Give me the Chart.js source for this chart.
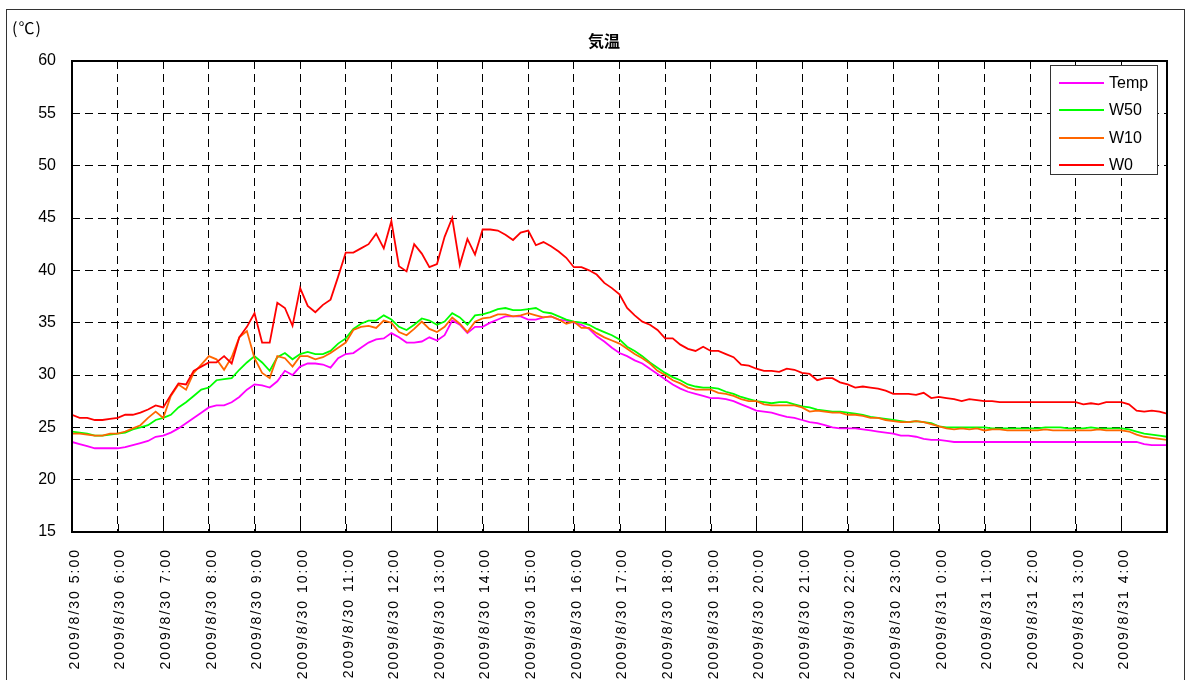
<!DOCTYPE html>
<html>
<head>
<meta charset="utf-8">
<script src="https://cdn.jsdelivr.net/npm/chart.js@4.4.0/dist/chart.umd.min.js"></script>
<style>
  html, body { margin: 0; padding: 0; background: #fff; overflow: hidden; }
  #wrap { position: relative; width: 1190px; height: 680px; }
  #myChart { position: absolute; left: 0; top: 0; }
  #frame { position: absolute; left: 6px; top: 9px; width: 1177px; height: 720px; border: 1px solid #333; pointer-events: none; }
  #unit { position: absolute; left: 12px; top: 16px; font: 16px "Noto Sans CJK JP", sans-serif; letter-spacing: 1px; line-height: 22px; color: #000; }
  #title { position: absolute; left: 554px; top: 29px; width: 100px; text-align: center; font: bold 16px "Noto Sans CJK JP", sans-serif; line-height: 22px; color: #000; }
  #legend { position: absolute; left: 1050px; top: 65px; width: 106px; height: 108px; border: 1px solid #333; background: #fff; }
  .legend-item { position: absolute; left: 0; height: 20px; width: 106px; }
  .legend-line { position: absolute; left: 8px; top: 9px; width: 45px; height: 2px; }
  .legend-text { position: absolute; left: 58px; top: 0; font: 16px "Liberation Sans", Arial, sans-serif; line-height: 20px; color: #000; }
</style>
</head>
<body>
<div id="wrap">
  <canvas id="myChart" width="1190" height="680"></canvas>
  <div id="frame"></div>
  <div id="unit">(℃)</div>
  <div id="title">気温</div>
  <div id="legend"></div>
</div>
<script>
// x axis tick labels, one per hour from 5:00
var hourLabels = [
    '2009/8/30 5:00', '2009/8/30 6:00', '2009/8/30 7:00', '2009/8/30 8:00',
    '2009/8/30 9:00', '2009/8/30 10:00', '2009/8/30 11:00', '2009/8/30 12:00',
    '2009/8/30 13:00', '2009/8/30 14:00', '2009/8/30 15:00', '2009/8/30 16:00',
    '2009/8/30 17:00', '2009/8/30 18:00', '2009/8/30 19:00', '2009/8/30 20:00',
    '2009/8/30 21:00', '2009/8/30 22:00', '2009/8/30 23:00', '2009/8/31 0:00',
    '2009/8/31 1:00', '2009/8/31 2:00', '2009/8/31 3:00', '2009/8/31 4:00'
];

// readings every 10 minutes, 2009/8/30 5:00 .. 2009/8/31 5:00
var stepMinutes = 10;

var seriesNames = ['Temp', 'W50', 'W10', 'W0'];
var seriesColors = ['#ff00ff', '#00ff00', '#ff6600', '#ff0000'];

var tempValues = [
    23.6, 23.4, 23.2, 23.0, 23.0, 23.0,
    23.0, 23.1, 23.3, 23.5, 23.7, 24.1,
    24.2, 24.5, 24.9, 25.4, 25.9, 26.4,
    26.9, 27.1, 27.1, 27.4, 27.9, 28.6,
    29.1, 29.0, 28.8, 29.4, 30.4, 30.0,
    30.8, 31.1, 31.1, 31.0, 30.7, 31.6,
    32.0, 32.1, 32.6, 33.1, 33.4, 33.5,
    34.0, 33.6, 33.1, 33.1, 33.2, 33.6,
    33.3, 33.8, 35.2, 34.8, 34.0, 34.6,
    34.6, 35.0, 35.3, 35.6, 35.6, 35.6,
    35.3, 35.3, 35.5, 35.6, 35.3, 35.2,
    35.0, 34.8, 34.4, 33.7, 33.2, 32.6,
    32.1, 31.8, 31.4, 31.1, 30.6, 30.1,
    29.6, 29.1, 28.7, 28.4, 28.2, 28.0,
    27.8, 27.8, 27.7, 27.5, 27.2, 26.9,
    26.6, 26.5, 26.4, 26.2, 26.0, 25.9,
    25.7, 25.5, 25.4, 25.2, 25.0, 24.9,
    24.9, 24.9, 24.8, 24.7, 24.6, 24.5,
    24.4, 24.2, 24.2, 24.1, 23.9, 23.8,
    23.8, 23.7, 23.6, 23.6, 23.6, 23.6,
    23.6, 23.6, 23.6, 23.6, 23.6, 23.6,
    23.6, 23.6, 23.6, 23.6, 23.6, 23.6,
    23.6, 23.6, 23.6, 23.6, 23.6, 23.6,
    23.6, 23.6, 23.6, 23.4, 23.3, 23.3,
    23.3
];

var w50Values = [
    24.6, 24.5, 24.4, 24.2, 24.2, 24.3,
    24.4, 24.5, 24.8, 25.0, 25.2, 25.7,
    25.9, 26.2, 26.9, 27.4, 28.0, 28.6,
    28.8, 29.5, 29.6, 29.7, 30.5, 31.2,
    31.8, 31.2, 30.4, 31.7, 32.1, 31.5,
    32.0, 32.2, 32.0, 32.0, 32.3, 33.0,
    33.5, 34.4, 34.9, 35.2, 35.2, 35.7,
    35.3, 34.6, 34.3, 34.8, 35.4, 35.2,
    34.8, 35.1, 35.9, 35.5, 34.8, 35.7,
    35.8, 36.0, 36.3, 36.4, 36.2, 36.2,
    36.3, 36.4, 36.0, 35.9, 35.6, 35.3,
    35.1, 35.0, 34.8, 34.4, 34.1, 33.8,
    33.4, 32.7, 32.3, 31.8, 31.2, 30.7,
    30.2, 29.8, 29.5, 29.1, 28.9, 28.8,
    28.8, 28.7, 28.4, 28.2, 27.9, 27.7,
    27.5, 27.4, 27.3, 27.4, 27.4, 27.2,
    27.0, 26.9, 26.7, 26.6, 26.5, 26.5,
    26.4, 26.3, 26.2, 26.0, 25.9, 25.8,
    25.7, 25.6, 25.5, 25.6, 25.5, 25.4,
    25.1, 25.0, 25.0, 25.0, 25.0, 25.0,
    25.0, 24.9, 24.9, 24.9, 24.9, 24.9,
    24.9, 24.9, 25.0, 25.0, 25.0, 24.9,
    24.9, 24.9, 25.0, 24.9, 24.9, 24.9,
    24.9, 24.8, 24.6, 24.4, 24.3, 24.2,
    24.1
];

var w10Values = [
    24.4, 24.4, 24.3, 24.2, 24.2, 24.4,
    24.4, 24.6, 24.9, 25.2, 25.9, 26.5,
    25.9, 28.0, 29.1, 28.6, 30.2, 31.0,
    31.8, 31.5, 30.5, 31.7, 33.6, 34.2,
    31.6, 30.2, 29.7, 31.8, 31.6, 30.8,
    31.8, 31.8, 31.5, 31.7, 32.1, 32.6,
    33.1, 34.3, 34.6, 34.7, 34.5, 35.2,
    35.0, 34.1, 33.8, 34.4, 35.1, 34.4,
    34.1, 34.6, 35.5, 34.9, 34.1, 35.1,
    35.4, 35.5, 35.8, 35.8, 35.6, 35.7,
    35.9, 35.7, 35.5, 35.6, 35.3, 34.9,
    35.1, 34.5, 34.5, 34.0, 33.6, 33.3,
    33.0, 32.5, 32.0, 31.6, 31.1, 30.4,
    30.0, 29.5, 29.2, 28.8, 28.6, 28.6,
    28.6, 28.3, 28.2, 28.0, 27.7, 27.5,
    27.5, 27.2, 27.1, 27.1, 27.1, 27.1,
    26.9, 26.5, 26.6, 26.5, 26.4, 26.4,
    26.2, 26.2, 26.1, 25.9, 25.9, 25.7,
    25.6, 25.5, 25.5, 25.6, 25.5, 25.3,
    25.1, 24.9, 24.8, 24.9, 24.8, 24.9,
    24.7, 24.8, 24.8, 24.7, 24.7, 24.7,
    24.7, 24.7, 24.8, 24.7, 24.7, 24.7,
    24.7, 24.7, 24.7, 24.8, 24.7, 24.7,
    24.7, 24.6, 24.3, 24.1, 24.0, 23.9,
    23.8
];

var w0Values = [
    26.2, 25.9, 25.9, 25.7, 25.7, 25.8,
    25.9, 26.2, 26.2, 26.4, 26.7, 27.1,
    26.9, 28.1, 29.2, 29.1, 30.4, 30.8,
    31.2, 31.2, 31.8, 31.1, 33.6, 34.6,
    35.9, 33.1, 33.1, 36.9, 36.4, 34.7,
    38.3, 36.6, 36.0, 36.7, 37.2, 39.4,
    41.7, 41.7, 42.1, 42.5, 43.5, 42.1,
    44.7, 40.4, 39.9, 42.5, 41.6, 40.3,
    40.6, 43.2, 45.0, 40.5, 43.0, 41.5,
    43.9, 43.9, 43.8, 43.4, 42.9, 43.6,
    43.8, 42.4, 42.7, 42.3, 41.8, 41.2,
    40.3, 40.3, 40.0, 39.6, 38.8, 38.3,
    37.7, 36.4, 35.7, 35.1, 34.8, 34.3,
    33.5, 33.5, 32.9, 32.5, 32.3, 32.7,
    32.3, 32.3, 32.0, 31.7, 31.0, 30.9,
    30.6, 30.4, 30.4, 30.3, 30.6, 30.5,
    30.2, 30.1, 29.5, 29.7, 29.7, 29.3,
    29.1, 28.8, 28.9, 28.8, 28.7, 28.5,
    28.2, 28.2, 28.2, 28.1, 28.3, 27.8,
    27.9, 27.8, 27.7, 27.5, 27.7, 27.6,
    27.5, 27.5, 27.4, 27.4, 27.4, 27.4,
    27.4, 27.4, 27.4, 27.4, 27.4, 27.4,
    27.4, 27.2, 27.3, 27.2, 27.4, 27.4,
    27.4, 27.2, 26.6, 26.5, 26.6, 26.5,
    26.3
];

var yTicks = { min: 15, max: 60, step: 5 };

function toPoints(values) {
    return values.map(function (v, i) {
        return { x: i * stepMinutes / 60, y: v };
    });
}

// solid frame round the plot area plus short inner ticks on the time axis
var plotFrame = {
    id: 'plotFrame',
    afterDraw: function (chart) {
        var ctx = chart.ctx;
        var a = chart.chartArea;
        var xs = chart.scales.x;
        ctx.save();
        ctx.setLineDash([]);
        ctx.strokeStyle = '#000';
        ctx.lineWidth = 1;
        for (var h = 1; h < 24; h++) {
            var px = Math.round(xs.getPixelForValue(h)) + 0.5;
            ctx.beginPath();
            ctx.moveTo(px, a.bottom);
            ctx.lineTo(px, a.bottom - 8);
            ctx.stroke();
        }
        ctx.lineWidth = 2;
        ctx.strokeRect(a.left, a.top, a.right - a.left, a.bottom - a.top);
        ctx.restore();
    }
};

// widen the rotated date labels a little (x labels are drawn before the datasets)
var xLabelSpacing = {
    id: 'xLabelSpacing',
    beforeDraw: function (chart) { chart.ctx.letterSpacing = '2px'; },
    beforeDatasetsDraw: function (chart) { chart.ctx.letterSpacing = '0px'; }
};

var allValues = [tempValues, w50Values, w10Values, w0Values];

var ctx = document.getElementById('myChart').getContext('2d');

var myChart = new Chart(ctx, {
    type: 'line',
    data: {
        datasets: seriesNames.map(function (name, i) {
            return {
                label: name,
                data: toPoints(allValues[i]),
                borderColor: seriesColors[i],
                backgroundColor: seriesColors[i],
                order: seriesNames.length - i
            };
        })
    },
    options: {
        responsive: false,
        animation: false,
        layout: { padding: { top: 61, right: 23, left: 0, bottom: 0 } },
        elements: {
            point: { radius: 0 },
            line: { borderWidth: 1.8, tension: 0 }
        },
        plugins: {
            legend: { display: false },
            tooltip: { enabled: false }
        },
        scales: {
            x: {
                type: 'linear',
                min: 0,
                max: 24,
                afterFit: function (scale) {
                    scale.height = 148;
                    scale.paddingLeft = 0;
                    scale.paddingRight = 0;
                },
                grid: { color: '#000', lineWidth: 1, drawTicks: false },
                border: { display: false, dash: [8, 5] },
                ticks: {
                    stepSize: 1,
                    autoSkip: false,
                    maxRotation: 90,
                    minRotation: 90,
                    padding: 16,
                    labelOffset: 3,
                    color: '#000',
                    font: { family: 'Liberation Sans', size: 14 },
                    callback: function (value) { return hourLabels[value] || ''; }
                }
            },
            y: {
                min: yTicks.min,
                max: yTicks.max,
                afterFit: function (scale) {
                    scale.width = 72;
                    scale.paddingTop = 0;
                    scale.paddingBottom = 0;
                },
                grid: { color: '#000', lineWidth: 1, drawTicks: false },
                border: { display: false, dash: [8, 5] },
                ticks: {
                    stepSize: yTicks.step,
                    padding: 16,
                    z: 1,
                    color: '#000',
                    font: { family: 'Liberation Sans', size: 16 }
                }
            }
        }
    },
    plugins: [plotFrame, xLabelSpacing]
});

// legend box drawn inside the plot, top right
function updateLegend() {
    var legend = document.getElementById('legend');
    legend.innerHTML = '';
    myChart.data.datasets.forEach(function (ds, index) {
        var item = document.createElement('div');
        item.classList.add('legend-item');
        item.style.top = (7 + index * 27.3) + 'px';

        var line = document.createElement('div');
        line.classList.add('legend-line');
        line.style.backgroundColor = ds.borderColor;

        var text = document.createElement('div');
        text.classList.add('legend-text');
        text.innerText = ds.label;

        item.appendChild(line);
        item.appendChild(text);
        legend.appendChild(item);
    });
}

updateLegend();
</script>
</body>
</html>
